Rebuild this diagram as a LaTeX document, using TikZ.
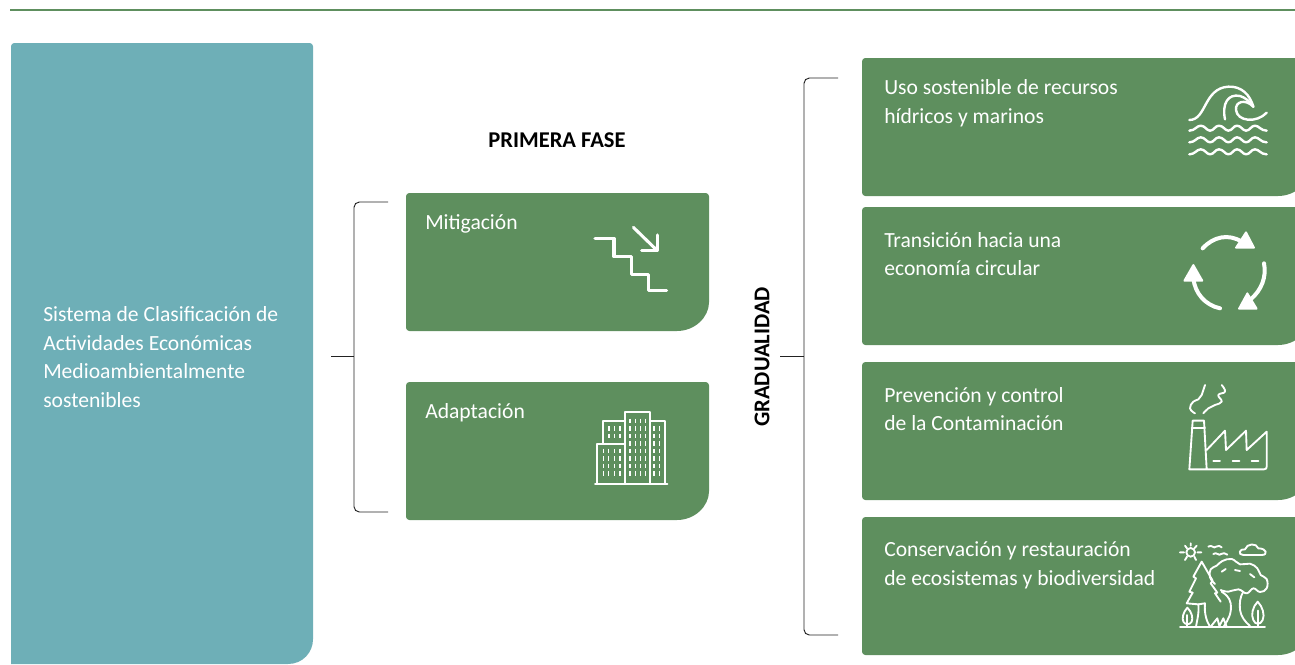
\documentclass[tikz,border=0pt]{standalone}
\usepackage{xcolor}
\usepackage{fontspec}
\setmainfont{Carlito}
\usepackage{tikz}
\usetikzlibrary{calc}
\usetikzlibrary{positioning}
\definecolor{leaf}{HTML}{5E8F5E}
\definecolor{lake}{HTML}{6EAFB7}
\definecolor{rule}{HTML}{222222}
\tikzstyle{bodytext} = [draw = none, inner sep = 0, text = white, align = left, anchor = west, font = \fontsize{16.2}{21.6}\selectfont]
\tikzstyle{headtext} = [draw = none, inner sep = 0, text = black, font = \fontsize{16.9}{20}\selectfont\bfseries]
\tikzstyle{bracket} = [draw = rule, line width = .7pt, rounded corners = 4pt]
\tikzstyle{icon} = [draw = white, line width = 1.4pt, line cap = round, line join = round, x = .25pt, y = -.25pt]
\tikzstyle{thick icon} = [icon, line width = 2.3pt]
\tikzstyle{pane} = [icon, line width = .9pt, line cap = butt]
\newcommand{\panel}[5]{\fill [#5] [rounded corners = 2.5pt] (#1, #4 - 40) -- (#1, #2) -- (#3, #2) -- (#3, #4 - 32) [sharp corners] .. controls (#3, #4 - 14) and (#3 - 14, #4) .. (#3 - 32, #4) [rounded corners = 2.5pt] -- (#1, #4) -- cycle;}
\begin{document}
\begin{tikzpicture}[x = .75pt, y = -.75pt]
\useasboundingbox (0, 0) rectangle (1295, 664);
\draw [draw = leaf, line width = 2.2pt] (10, 10) -- (1295, 10);
% panels
\fill [lake] [rounded corners = 2.5pt] (11, 300) -- (11, 43) -- (313, 43) -- (313, 636) [sharp corners] .. controls (313, 652) and (303, 664) .. (288, 664) -- (11, 664) -- cycle;
\panel{406}{193}{709}{331}{leaf}
\panel{406}{382}{709}{520}{leaf}
\panel{862}{58}{1310}{196}{leaf}
\panel{862}{207}{1310}{345}{leaf}
\panel{862}{362}{1310}{500}{leaf}
\panel{862}{517}{1310}{655}{leaf}
% texts
\node [bodytext] (S) at (43, 357) {Sistema de Clasificación de\\Actividades Económicas\\Medioambientalmente\\sostenibles};
\node [headtext] (P) at (557, 140) {PRIMERA FASE};
\node [headtext, rotate = 90] (G) at (762, 357) {GRADUALIDAD};
\node [bodytext] (M) at (425, 224) {Mitigación};
\node [bodytext] (A) at (425, 413) {Adaptación};
\node [bodytext] (U) at (884, 103.5) {Uso sostenible de recursos\\hídricos y marinos};
\node [bodytext] (T) at (884, 254) {Transición hacia una\\economía circular};
\node [bodytext] (C) at (884, 409) {Prevención y control\\de la Contaminación};
\node [bodytext] (B) at (884, 565.5) {Conservación y restauración\\de ecosistemas y biodiversidad};
% brackets
\coordinate (L0) at (331, 356);
\coordinate (L1) at (354, 356);
\coordinate (La) at (388, 202);
\coordinate (Lb) at (388, 512);
\coordinate (R0) at (780, 356);
\coordinate (R1) at (804, 356);
\coordinate (Ra) at (838, 78);
\coordinate (Rb) at (838, 635);
\draw [bracket] (La) -| (L1) |- (Lb);
\draw [bracket] (L0) -- (L1);
\draw [bracket] (Ra) -| (R1) |- (Rb);
\draw [bracket] (R0) -- (R1);
% stairs
\begin{scope}[shift = {(570, 190)}]
\draw [thick icon] (75, 145) -- (132, 145) -- (132, 200) -- (185, 200) -- (185, 253) -- (235, 253) -- (235, 302) -- (290, 302);
\draw [thick icon] (190, 112) -- (262, 182);
\draw [thick icon] (262, 135) -- (262, 182) -- (215, 182);
\end{scope}
% buildings
\begin{scope}[shift = {(570, 190)}]
\draw [icon] (165, 882) -- (165, 667) -- (240, 667) -- (240, 882);
\draw [icon] (240, 692) -- (285, 692) -- (285, 882);
\draw [icon] (98, 760) -- (98, 693) -- (165, 693);
\draw [icon] (82, 882) -- (82, 762) -- (165, 762);
\draw [icon] (75, 883) -- (292, 883);
\foreach \xa in {180, 197, 212, 227} \foreach \ya in {693, 715, 738, 760, 783, 805, 828, 850}
  \draw [pane] (\xa, \ya - 7) -- (\xa, \ya + 7);
\foreach \xa in {100, 115, 133, 150} \foreach \ya in {783, 805, 828, 850}
  \draw [pane] (\xa, \ya - 7) -- (\xa, \ya + 7);
\foreach \xa in {117, 133, 150} \foreach \ya in {715, 738}
  \draw [pane] (\xa, \ya - 7) -- (\xa, \ya + 7);
\foreach \xa in {252, 268} \foreach \ya in {715, 738, 760, 783, 805, 828, 850}
  \draw [pane] (\xa, \ya - 7) -- (\xa, \ya + 7);
\end{scope}
% wave
\begin{scope}[shift = {(1160, 60)}]
\draw [icon, line width = 1.8pt] (88, 180) .. controls (140, 180) and (130, 85) .. (205, 80) .. controls (245, 78) and (270, 105) .. (280, 140);
\draw [icon, line width = 1.8pt] (195, 178) .. controls (185, 130) and (205, 100) .. (240, 108) .. controls (255, 112) and (270, 125) .. (280, 140);
\draw [icon, line width = 1.8pt] (280, 140) .. controls (255, 115) and (225, 125) .. (228, 150) .. controls (232, 185) and (290, 190) .. (320, 158);
\foreach \ya in {212, 247, 283}
  \draw [icon, line width = 1.8pt] (88, \ya) .. controls (105, \ya) and (110, \ya - 15) .. (122, \ya - 15) .. controls (135, \ya - 15) and (140, \ya) .. (150, \ya) .. controls (162, \ya) and (165, \ya - 15) .. (177, \ya - 15) .. controls (190, \ya - 15) and (195, \ya) .. (205, \ya) .. controls (217, \ya) and (220, \ya - 15) .. (231, \ya - 15) .. controls (243, \ya - 15) and (248, \ya) .. (258, \ya) .. controls (270, \ya) and (273, \ya - 15) .. (285, \ya - 15) .. controls (297, \ya - 15) and (302, \ya) .. (320, \ya);
\end{scope}
% circular arrows
\begin{scope}[shift = {(1160, 60)}]
\draw [icon, line width = 3pt] (128, 565) .. controls (160, 530) and (205, 520) .. (245, 545);
\draw [icon, line width = 3pt] (312, 610) .. controls (320, 650) and (305, 690) .. (272, 718);
\draw [icon, line width = 3pt] (180, 745) .. controls (135, 735) and (105, 700) .. (100, 655);
\fill [icon, fill = white] (258, 517) -- (282, 563) -- (228, 563) -- cycle;
\fill [icon, fill = white] (262, 700) -- (290, 746) -- (237, 746) -- cycle;
\fill [icon, fill = white] (100, 615) -- (127, 662) -- (73, 662) -- cycle;
\end{scope}
% factory
\begin{scope}[shift = {(1160, 370)}]
\draw [icon] (140, 298) -- (132, 152) -- (98, 152) -- (88, 298) -- (312, 298) .. controls (318, 298) and (320, 295) .. (320, 290) -- (320, 185) -- (260, 240) -- (258, 182) -- (198, 240) -- (195, 182) -- (140, 240);
\draw [icon] (95, 175) -- (135, 175);
\draw [icon] (160, 272) -- (180, 272) (218, 272) -- (238, 272) (275, 272) -- (295, 272);
\draw [icon] plot [smooth, tension = .8] coordinates {(105, 130) (90, 115) (100, 95) (115, 88) (125, 75) (130, 60) (135, 45)};
\draw [icon] plot [smooth, tension = .8] coordinates {(130, 130) (145, 115) (165, 105) (185, 95) (175, 75) (195, 65) (185, 45)};
\end{scope}
% forest
\begin{scope}[shift = {(1160, 370)}]
\draw [icon] (92, 547) circle [radius = 13];
\draw [icon] (60, 547) -- (72, 547) (112, 547) -- (124, 547) (92, 520) -- (92, 527) (75, 527) -- (81, 535) (110, 527) -- (103, 535) (75, 570) -- (81, 560) (108, 570) -- (103, 560);
\draw [icon] (145, 530) .. controls (155, 522) and (162, 538) .. (168, 530) .. controls (175, 525) and (180, 528) .. (185, 532);
\draw [icon] (160, 552) .. controls (170, 544) and (177, 560) .. (183, 552) .. controls (190, 547) and (195, 550) .. (202, 554);
\draw [icon] (250, 555) .. controls (232, 555) and (238, 535) .. (255, 538) .. controls (260, 520) and (290, 518) .. (295, 535) .. controls (320, 535) and (325, 555) .. (305, 555) -- cycle;
\draw [icon] (60, 772) -- (315, 772);
\draw [icon] (182, 695) -- (165, 670) -- (172, 668) -- (152, 640) -- (158, 632) -- (125, 575) -- (100, 620) -- (108, 625) -- (88, 665) -- (98, 668) -- (80, 700) -- (115, 703) -- (135, 700);
\draw [icon] (115, 703) .. controls (118, 730) and (110, 755) .. (108, 770);
\draw [icon] (135, 700) .. controls (132, 730) and (140, 755) .. (150, 770);
\draw [icon] (152, 770) -- (172, 745) -- (178, 768) -- (190, 745) -- (200, 770);
\draw [icon] plot [smooth, tension = .7] coordinates {(165, 642) (150, 622) (152, 598) (170, 587) (187, 573) (215, 567) (240, 583) (270, 581) (292, 595) (302, 615) (320, 627) (320, 655) (300, 666) (280, 655) (260, 670) (235, 658) (205, 665) (182, 660)};
\draw [icon] (185, 605) -- (197, 597) (225, 600) -- (240, 603) (270, 612) -- (283, 622);
\draw [icon] (185, 665) .. controls (195, 672) and (208, 680) .. (212, 700) .. controls (216, 730) and (205, 748) .. (192, 768);
\draw [icon] (250, 665) .. controls (240, 680) and (238, 700) .. (240, 720) .. controls (243, 740) and (255, 755) .. (270, 768);
\draw [icon] (82, 713) .. controls (70, 725) and (65, 745) .. (70, 755) .. controls (75, 765) and (90, 765) .. (95, 755) .. controls (100, 745) and (95, 725) .. (82, 713) -- cycle;
\draw [icon] (82, 770) -- (82, 735);
\draw [icon] (293, 695) .. controls (278, 710) and (272, 735) .. (280, 750) .. controls (285, 765) and (302, 765) .. (308, 750) .. controls (315, 735) and (308, 710) .. (293, 695) -- cycle;
\draw [icon] (293, 770) -- (293, 722);
\end{scope}
\end{tikzpicture}
\end{document}
